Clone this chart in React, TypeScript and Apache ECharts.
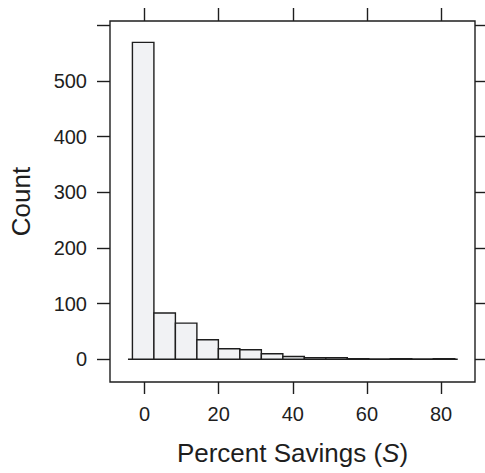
import React, { useEffect, useRef } from "react";
import * as echarts from "echarts";

const breaks: number[] = [-3.3, 2.5, 8.3, 14.1, 19.9, 25.7, 31.5, 37.3, 43.1, 48.9, 54.7, 60.5, 66.3, 72.1, 77.9, 83.7];
const counts: number[] = [569, 83, 65, 35, 19, 17, 10, 5, 3, 3, 1, 0, 1, 0, 1];
const xTicks: number[] = [0, 20, 40, 60, 80];
const yTicks: number[] = [0, 100, 200, 300, 400, 500, 600];
const yLabels: number[] = [0, 100, 200, 300, 400, 500];

const FONT = "Liberation Sans, Arial, Helvetica, sans-serif";
const INK = "#1e1e1e";

export default function App() {
  const ref = useRef<HTMLDivElement>(null);
  useEffect(() => {
    if (!ref.current) return;
    const chart = echarts.init(ref.current, undefined, { renderer: "svg" });
    const data = counts.map((c, i) => [breaks[i], breaks[i + 1], c]);
    const tickStyle = { color: INK, width: 1.4 };
    chart.setOption({
      animation: false,
      backgroundColor: "#ffffff",
      grid: {
        left: 109,
        top: 21,
        right: 10,
        bottom: 91,
        show: true,
        borderColor: INK,
        borderWidth: 1.4,
        backgroundColor: "transparent",
      },
      xAxis: [
        {
          type: "value",
          min: -9.35,
          max: 89.16,
          position: "bottom",
          axisLine: { show: false, onZero: false },
          splitLine: { show: false },
          axisTick: { show: true, customValues: xTicks, length: 12, inside: false, lineStyle: tickStyle },
          axisLabel: { customValues: xTicks, margin: 22, fontSize: 20, color: INK, fontFamily: FONT },
          name: "Percent Savings ({it|S})",
          nameLocation: "middle",
          nameGap: 58,
          nameTextStyle: {
            fontSize: 26,
            color: INK,
            fontFamily: FONT,
            rich: { it: { fontStyle: "italic", fontSize: 26, color: INK, fontFamily: FONT } },
          },
        },
        {
          type: "value",
          min: -9.35,
          max: 89.16,
          position: "top",
          axisLine: { show: false, onZero: false },
          splitLine: { show: false },
          axisTick: { show: true, customValues: xTicks, length: 13, inside: false, lineStyle: tickStyle },
          axisLabel: { show: false },
        },
      ],
      yAxis: [
        {
          type: "value",
          min: -40.8,
          max: 607.4,
          position: "left",
          axisLine: { show: false, onZero: false },
          splitLine: { show: false },
          axisTick: { show: true, customValues: yTicks, length: 13, inside: false, lineStyle: tickStyle },
          axisLabel: { customValues: yLabels, margin: 23, fontSize: 20, color: INK, fontFamily: FONT },
          name: "Count",
          nameLocation: "middle",
          nameGap: 76,
          nameTextStyle: { fontSize: 26, color: INK, fontFamily: FONT },
        },
        {
          type: "value",
          min: -40.8,
          max: 607.4,
          position: "right",
          axisLine: { show: false, onZero: false },
          splitLine: { show: false },
          axisTick: { show: true, customValues: yTicks, length: 13, inside: false, lineStyle: tickStyle },
          axisLabel: { show: false },
        },
      ],
      series: [
        {
          type: "line",
          xAxisIndex: 0,
          yAxisIndex: 0,
          data: [
            [-4.5, 0],
            [84.5, 0],
          ],
          symbol: "none",
          lineStyle: { color: INK, width: 1.4 },
          z: 1,
        },
        {
          type: "custom",
          xAxisIndex: 0,
          yAxisIndex: 0,
          data,
          z: 2,
          renderItem: (params: any, api: any) => {
            const x0 = api.value(0);
            const x1 = api.value(1);
            const c = api.value(2);
            const p0 = api.coord([x0, c]);
            const p1 = api.coord([x1, 0]);
            return {
              type: "rect",
              shape: { x: p0[0], y: p0[1], width: p1[0] - p0[0], height: p1[1] - p0[1] },
              style: { fill: "#f1f2f4", stroke: INK, lineWidth: 1.4 },
            };
          },
        },
      ],
    });
    return () => chart.dispose();
  }, []);
  return (
    <div
      ref={ref}
      style={{ position: "absolute", left: 0, top: 0, width: 485, height: 473 }}
    />
  );
}
